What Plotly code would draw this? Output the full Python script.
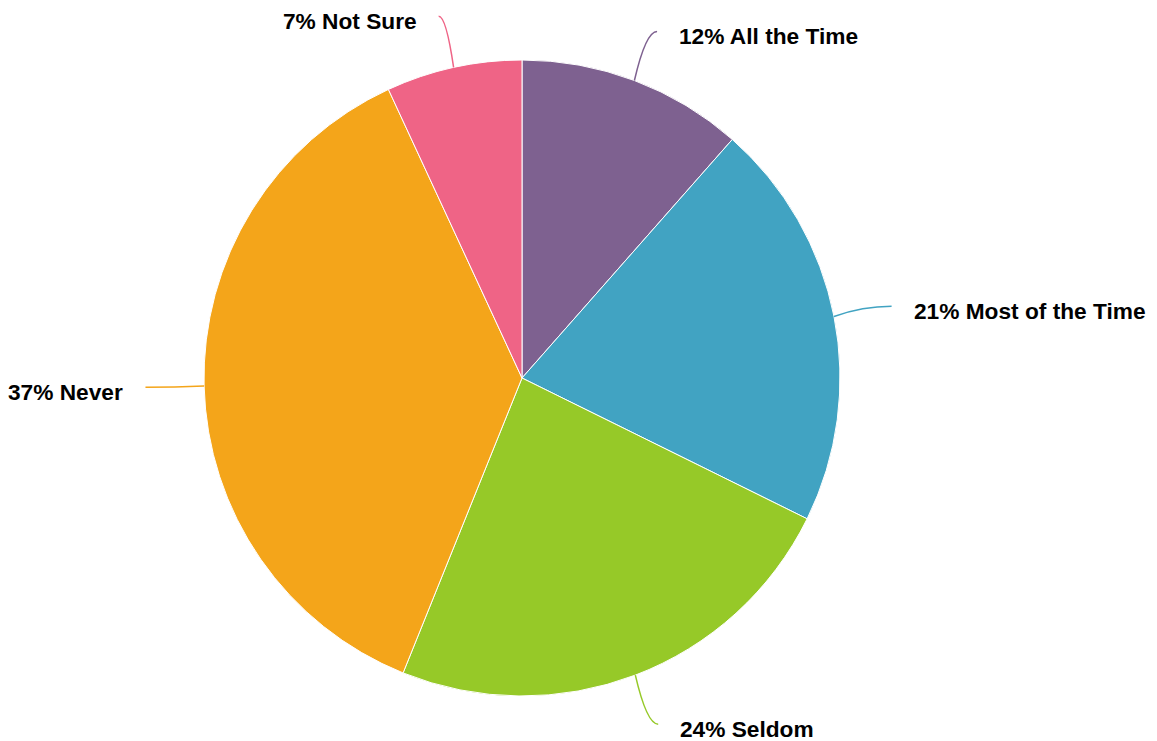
import math
import plotly.graph_objects as go

# slice data, clockwise from 12 o'clock
categories = ["All the Time", "Most of the Time", "Seldom", "Never", "Not Sure"]
values = [11.5, 20.8, 23.8, 37.0, 6.9]
colors = ["#7E6190", "#41A3C2", "#96C928", "#F4A51A", "#EF6486"]

W, H = 1157, 741
# pie domain in pixels (left, top, right, bottom)
DOM = (0, 60, 1044, 696)

fig = go.Figure(
    go.Pie(
        labels=categories,
        values=values,
        sort=False,
        direction="clockwise",
        rotation=0,
        textinfo="none",
        hoverinfo="label+percent",
        marker=dict(colors=colors, line=dict(color="white", width=1)),
        domain=dict(x=[DOM[0] / W, DOM[2] / W], y=[1 - DOM[3] / H, 1 - DOM[1] / H]),
        showlegend=False,
    )
)

# leader lines + labels, derived from slice angles
cx = (DOM[0] + DOM[2]) / 2
cy = (DOM[1] + DOM[3]) / 2
R = min(DOM[2] - DOM[0], DOM[3] - DOM[1]) / 2
total = sum(values)


def px(x, y):
    return x / W, 1 - y / H


shapes = []
annotations = []
cum = 0
for cat, v, col in zip(categories, values, colors):
    mid = (cum + v / 2) / total * 2 * math.pi
    cum += v
    right = math.sin(mid) >= 0
    sgn = 1 if right else -1
    sx, sy = cx + R * math.sin(mid), cy - R * math.cos(mid)
    ex = cx + 1.175 * R * math.sin(mid) + 3 * sgn
    ey = cy - 1.165 * R * math.cos(mid)
    qx, qy = (sx + ex) / 2, ey
    p0, p1, p2 = px(sx, sy), px(qx, qy), px(ex, ey)
    shapes.append(dict(
        type="path", xref="paper", yref="paper",
        path=f"M {p0[0]},{p0[1]} Q {p1[0]},{p1[1]} {p2[0]},{p2[1]}",
        line=dict(color=col, width=1.5),
    ))
    lx, ly = px(ex + 20 * sgn, ey + 5)
    pct = round(v / total * 100)
    annotations.append(dict(
        x=lx, y=ly, xref="paper", yref="paper",
        text=f"<b>{pct}% {cat}</b>",
        showarrow=False,
        xanchor="left" if right else "right",
        yanchor="middle",
        font=dict(family="Liberation Sans, Arial, sans-serif", size=22.7, color="#000000"),
    ))

fig.update_layout(
    width=W, height=H,
    margin=dict(l=0, r=0, t=0, b=0),
    paper_bgcolor="white",
    plot_bgcolor="white",
    shapes=shapes,
    annotations=annotations,
)

# drop the default page margin so the figure sits at the window's corner
fig.write_html(
    "out.html",
    config={"displayModeBar": False},
    post_script="document.body.style.margin='0';",
)
